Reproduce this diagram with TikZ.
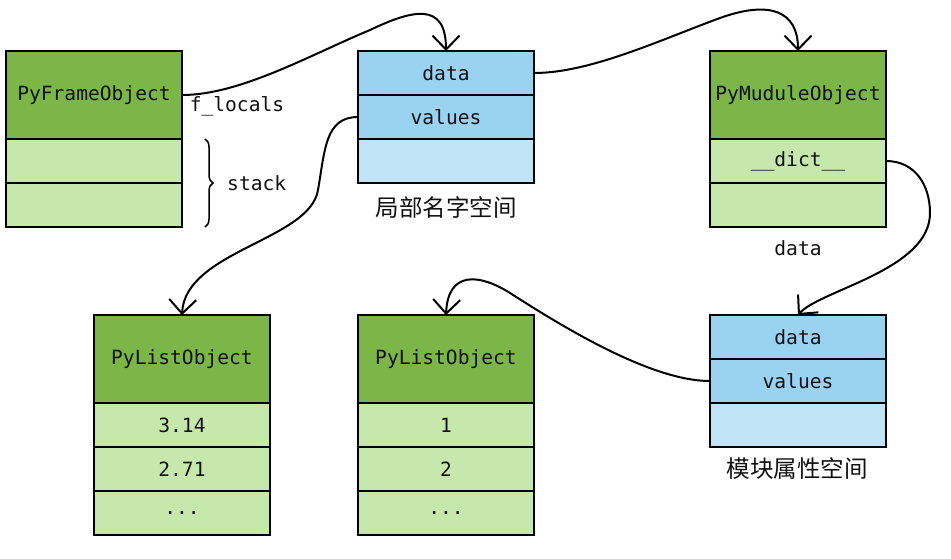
\documentclass[tikz,border=0pt]{standalone}
\usepackage{fontspec}
\setmonofont{DejaVu Sans Mono}
\newfontfamily\cjk{Noto Sans CJK SC}
\usetikzlibrary{arrows.meta,decorations.pathreplacing}
\definecolor{hdgreen}{HTML}{7DB648}
\definecolor{ltgreen}{HTML}{C7E8AC}
\definecolor{blueA}{HTML}{9AD2F2}
\definecolor{blueB}{HTML}{C0E4F6}
\definecolor{ink}{HTML}{111111}
\begin{document}
\begin{tikzpicture}[x=1pt,y=-1pt,
  cell/.style={draw=black, line width=2pt, minimum width=176pt, minimum height=44pt,
    inner sep=0pt, outer sep=0pt, text=ink, font=\ttfamily\fontsize{19.6}{23}\selectfont},
  hdr/.style={cell, fill=hdgreen, minimum height=88pt},
  lg/.style={cell, fill=ltgreen},
  bl/.style={cell, fill=blueA},
  lb/.style={cell, fill=blueB},
  lbl/.style={inner sep=0pt, text=ink, font=\ttfamily\fontsize{19.6}{23}\selectfont},
  cjklbl/.style={inner sep=0pt, text=ink, font=\cjk\fontsize{23.5}{27}\selectfont},
  conn/.style={line width=2pt, -{Straight Barb[length=14pt,width=27pt]}}
]
\useasboundingbox (0,0) rectangle (951,558);
% PyFrameObject
\node[hdr] (fhdr) at (94,95) {PyFrameObject};
\node[lg] (frow1) at (94,161) {};
\node[lg] (frow2) at (94,205) {};
% local namespace
\node[bl] (ldata) at (446,73) {data};
\node[bl] (lvalues) at (446,117) {values};
\node[lb] (lempty) at (446,161) {};
\node[cjklbl] (lname) at (446,207) {局部名字空间};
% PyMuduleObject
\node[hdr] (mhdr) at (798,95) {PyMuduleObject};
\node[lg] (mdict) at (798,161) {\_\_dict\_\_};
\node[lg] (mempty) at (798,205) {};
\node[lbl] (mdatalbl) at (798,248) {data};
% list 1
\node[hdr] (l1hdr) at (182,359) {PyListObject};
\node[lg] (l1a) at (182,425) {3.14};
\node[lg] (l1b) at (182,469) {2.71};
\node[lg] (l1c) at (182,513) {...};
% list 2
\node[hdr] (l2hdr) at (446,359) {PyListObject};
\node[lg] (l2a) at (446,425) {1};
\node[lg] (l2b) at (446,469) {2};
\node[lg] (l2c) at (446,513) {...};
% module attribute space
\node[bl] (madata) at (798,337) {data};
\node[bl] (mavalues) at (798,381) {values};
\node[lb] (maempty) at (798,425) {};
\node[cjklbl] (maname) at (797,469) {模块属性空间};
% labels
\node[lbl] (flocals) at (237,106) {f\_locals};
\node[lbl, anchor=west] (stack) at (227,183) {stack};
\draw[line width=1.5pt, decorate, decoration={brace, amplitude=8pt}] (205,139) -- (205,227);
% waypoints
\coordinate (c1) at (370,30);
\coordinate (c2) at (720,18);
\coordinate (c3) at (318,190);
\coordinate (c4) at (930,213);
\coordinate (c5) at (510,293);
% connectors
\draw[conn] (fhdr.east) .. controls +(58,0) and +(-60,25) .. (c1)
  .. controls +(42,-20) and +(0,-50) .. (ldata.north);
\draw[conn] (ldata.east) .. controls +(56,0) and +(-60,22) .. (c2)
  .. controls +(50,-18) and +(0,-40) .. (mhdr.north);
\draw[conn] (lvalues.west) .. controls +(-33,0) and +(7,-40) .. (c3)
  .. controls +(-8,50) and +(3,-64) .. (l1hdr.north);
\draw[conn] (mdict.east) .. controls +(29,0) and +(0,-28) .. (c4)
  .. controls +(0,57) and +(22,-25) .. (madata.north);
\draw[conn] (mavalues.west) .. controls +(-60,0) and +(50,32) .. (c5)
  .. controls +(-30,-19) and +(2,-45) .. (l2hdr.north);
\end{tikzpicture}
\end{document}
